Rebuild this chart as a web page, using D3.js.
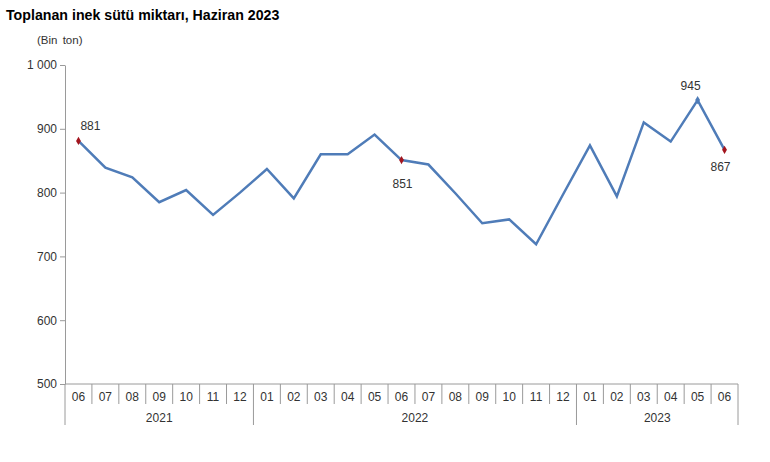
<!DOCTYPE html>
<html>
<head>
<meta charset="utf-8">
<script src="https://cdn.jsdelivr.net/npm/d3@7"></script>
<style>
  html, body { margin: 0; padding: 0; background: #fff; }
  svg { display: block; font-family: "Liberation Sans", Arial, sans-serif; }
</style>
</head>
<body>
<svg id="chart" width="770" height="462"></svg>
<script>
const months = ["06","07","08","09","10","11","12",
                "01","02","03","04","05","06","07","08","09","10","11","12",
                "01","02","03","04","05","06"];
const years = [
  { label: "2021", start: 0, end: 7 },
  { label: "2022", start: 7, end: 19 },
  { label: "2023", start: 19, end: 25 }
];
const values = [881, 839, 824, 785, 804, 765, 800, 837, 791, 860, 860, 891, 851,
                844, 799, 752, 758, 719, 797, 874, 794, 910, 880, 945, 867];
const labelledIdx = [0, 12, 23, 24];
const yTicks = [500, 600, 700, 800, 900, 1000];

(function () {
const svg = d3.select("#chart");
const mLeft = 65, mRight = 738, mTop = 65, mBottom = 384;

const x = d3.scaleBand().domain(d3.range(values.length)).range([mLeft, mRight]).padding(0);
const y = d3.scaleLinear().domain([500, 1000]).range([mBottom, mTop]);

const axisColor = "#9a9a9a";
const textColor = "#333";

// Title
svg.append("text").attr("x", 6).attr("y", 20)
  .attr("font-size", 14.2).attr("font-weight", "bold").attr("fill", "#000")
  .text("Toplanan inek sütü miktarı, Haziran 2023");
svg.append("text").attr("x", 37).attr("y", 44)
  .attr("font-size", 11.5).attr("fill", textColor).attr("word-spacing", 2)
  .text("(Bin ton)");

// Y axis
const yAxis = d3.axisLeft(y).tickValues(yTicks).tickSize(5).tickSizeOuter(0)
  .tickFormat(d => d >= 1000 ? d3.format(",")(d).replace(",", " ") : d);
const gy = svg.append("g").attr("transform", `translate(${mLeft},0)`).call(yAxis);
gy.select(".domain").attr("stroke", axisColor);
gy.selectAll(".tick line").attr("stroke", axisColor);
gy.selectAll(".tick text").attr("font-size", 12).attr("fill", textColor)
  .attr("font-family", "Liberation Sans, Arial, sans-serif").attr("x", -8);

// X axis base line
svg.append("line").attr("x1", mLeft).attr("x2", mRight).attr("y1", mBottom).attr("y2", mBottom)
  .attr("stroke", axisColor);

// Month separators
const boundaries = d3.range(values.length + 1);
const yearBounds = new Set(years.flatMap(d => [d.start, d.end]));
svg.append("g").selectAll("line").data(boundaries).join("line")
  .attr("x1", i => i < values.length ? x(i) : mRight)
  .attr("x2", i => i < values.length ? x(i) : mRight)
  .attr("y1", mBottom)
  .attr("y2", i => yearBounds.has(i) ? 425 : 404)
  .attr("stroke", axisColor);

// Month labels
svg.append("g").selectAll("text").data(months).join("text")
  .attr("x", (d, i) => x(i) + x.bandwidth() / 2)
  .attr("y", 401)
  .attr("text-anchor", "middle").attr("font-size", 12).attr("fill", textColor)
  .text(d => d);

// Year labels
svg.append("g").selectAll("text").data(years).join("text")
  .attr("x", d => (x(d.start) + (d.end < values.length ? x(d.end) : mRight)) / 2)
  .attr("y", 422)
  .attr("text-anchor", "middle").attr("font-size", 12).attr("fill", textColor)
  .text(d => d.label);

// Line
const line = d3.line().x((d, i) => x(i) + x.bandwidth() / 2).y(d => y(d));
svg.append("path").datum(values).attr("d", line)
  .attr("fill", "none").attr("stroke", "#4f7cb8").attr("stroke-width", 2.5)
  .attr("stroke-linejoin", "miter");

// Markers
const sym = d3.symbol().type(d3.symbolDiamond).size(20);
svg.append("g").selectAll("path").data(labelledIdx).join("path")
  .attr("d", sym)
  .attr("transform", i => `translate(${x(i) + x.bandwidth() / 2},${y(values[i])})`)
  .attr("fill", i => i === 23 ? "#4f7cb8" : "#a3151e");

// Data labels
const labelOffset = { 0: [12, -11], 12: [1, 28], 23: [-7, -10], 24: [-4, 21] };
svg.append("g").selectAll("text").data(labelledIdx).join("text")
  .attr("x", i => x(i) + x.bandwidth() / 2 + labelOffset[i][0])
  .attr("y", i => y(values[i]) + labelOffset[i][1])
  .attr("text-anchor", "middle").attr("font-size", 12).attr("fill", textColor)
  .text(i => values[i]);
})();
</script>
</body>
</html>
